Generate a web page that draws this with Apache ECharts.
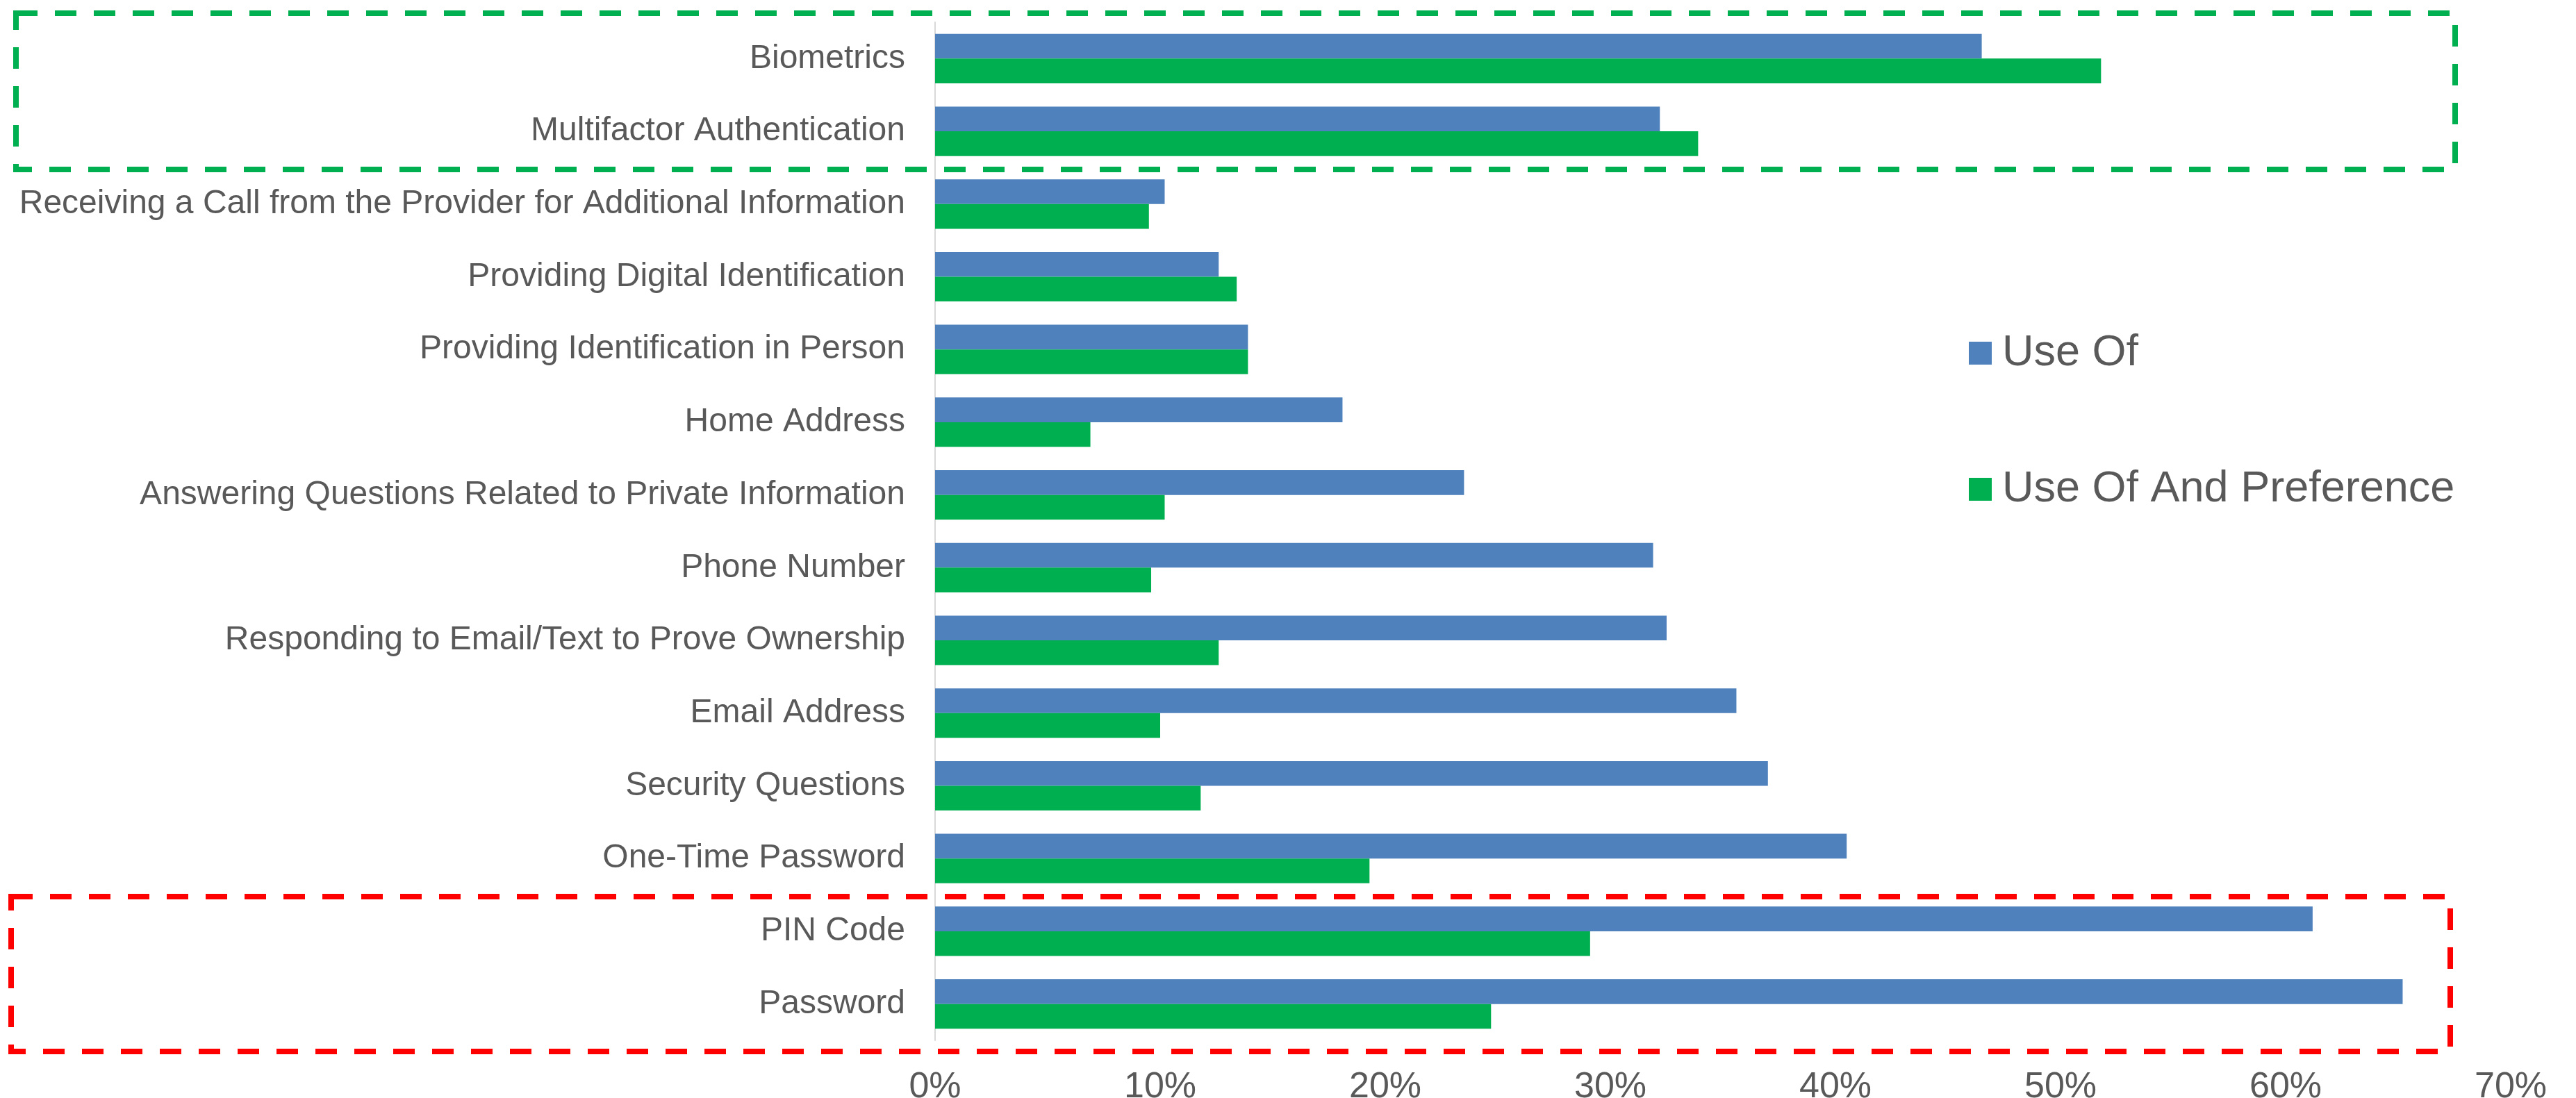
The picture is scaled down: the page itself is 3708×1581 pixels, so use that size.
<!DOCTYPE html>
<html>
<head>
<meta charset="utf-8">
<script src="https://cdn.jsdelivr.net/npm/echarts@6/dist/echarts.min.js"></script>
<style>
  html, body { margin: 0; padding: 0; background: #fff; }
  #chart { width: 3708px; height: 1581px; }
</style>
</head>
<body>
<div id="chart"></div>
<script>
// top to bottom
const categories = [
    'Biometrics',
    'Multifactor Authentication',
    'Receiving a Call from the Provider for Additional Information',
    'Providing Digital Identification',
    'Providing Identification in Person',
    'Home Address',
    'Answering Questions Related to Private Information',
    'Phone Number',
    'Responding to Email/Text to Prove Ownership',
    'Email Address',
    'Security Questions',
    'One-Time Password',
    'PIN Code',
    'Password'
];
const useOf = [46.5, 32.2, 10.2, 12.6, 13.9, 18.1, 23.5, 31.9, 32.5, 35.6, 37.0, 40.5, 61.2, 65.2];
const useOfAndPreference = [51.8, 33.9, 9.5, 13.4, 13.9, 6.9, 10.2, 9.6, 12.6, 10.0, 11.8, 19.3, 29.1, 24.7];
const seriesNames = ['Use Of', 'Use Of And Preference'];
const xTicks = {min: 0, max: 70, interval: 10};

const font = '"Liberation Sans", Arial, sans-serif';
const textColor = '#595959';

const chart = echarts.init(document.getElementById('chart'));

chart.setOption({
    backgroundColor: '#ffffff',
    animation: false,
    textStyle: {fontFamily: font},
    grid: {left: 1346, right: 94, top: 32, bottom: 83, containLabel: false, outerBoundsMode: 'none'},
    legend: {
        orient: 'vertical',
        left: 2829,
        top: 472,
        itemWidth: 33,
        itemHeight: 33,
        itemGap: 133,
        icon: 'rect',
        textStyle: {fontFamily: font, fontSize: 63, color: textColor, lineHeight: 63, padding: [0, 0, 0, 10]},
        data: seriesNames
    },
    xAxis: {
        type: 'value',
        min: xTicks.min,
        max: xTicks.max,
        interval: xTicks.interval,
        axisLine: {show: false},
        axisTick: {show: false},
        splitLine: {show: false},
        axisLabel: {
            formatter: '{value}%',
            fontFamily: font,
            fontSize: 52,
            color: textColor,
            margin: 42
        }
    },
    yAxis: {
        type: 'category',
        inverse: true,
        data: categories,
        axisLine: {show: true, lineStyle: {color: '#d9d9d9', width: 2}},
        axisTick: {show: false},
        axisLabel: {fontFamily: font, fontSize: 48, color: textColor, margin: 43, padding: [4, 0, 0, 0]}
    },
    series: [
        {
            name: seriesNames[0],
            type: 'bar',
            data: useOf,
            barGap: '0%',
            barCategoryGap: '32%',
            itemStyle: {color: '#4f81bd'}
        },
        {
            name: seriesNames[1],
            type: 'bar',
            data: useOfAndPreference,
            barGap: '0%',
            barCategoryGap: '32%',
            itemStyle: {color: '#00b050'}
        }
    ],
    graphic: [
        {
            type: 'rect',
            shape: {x: 23, y: 19, width: 3511, height: 225},
            style: {fill: 'none', stroke: '#00b050', lineWidth: 8, lineDash: [31, 25]},
            z: 10
        },
        {
            type: 'rect',
            shape: {x: 16, y: 1291, width: 3511, height: 223},
            style: {fill: 'none', stroke: '#ff0000', lineWidth: 8, lineDash: [31, 25]},
            z: 10
        }
    ]
});
</script>
</body>
</html>
